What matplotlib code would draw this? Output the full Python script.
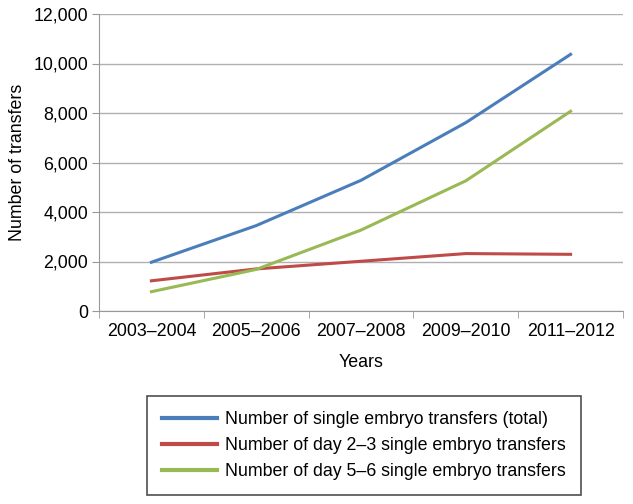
import matplotlib
matplotlib.use('Agg')
import matplotlib.pyplot as plt
import numpy as np

plt.rcParams['font.family'] = ['Liberation Sans', 'DejaVu Sans']

# Data
years = ['2003\u20132004', '2005\u20132006', '2007\u20132008', '2009\u20132010', '2011\u20132012']
total = [1970, 3450, 5280, 7610, 10370]
day23 = [1220, 1700, 2010, 2320, 2290]
day56 = [780, 1680, 3270, 5260, 8070]

fig = plt.figure(figsize=(6.33, 5.04), dpi=100)
ax = fig.add_axes([99 / 633, 1 - 311 / 504, (623 - 99) / 633, (311 - 14) / 504])

x = np.arange(len(years))
ax.plot(x, total, color='#4a7ebb', linewidth=2.2, label='Number of single embryo transfers (total)')
ax.plot(x, day23, color='#be4b48', linewidth=2.2, label='Number of day 2\u20133 single embryo transfers')
ax.plot(x, day56, color='#98b954', linewidth=2.2, label='Number of day 5\u20136 single embryo transfers')

ax.set_xlim(-0.5, len(years) - 0.5)
ax.set_ylim(0, 12000)
ax.set_yticks(range(0, 12001, 2000))
ax.set_yticklabels([f'{v:,}' for v in range(0, 12001, 2000)])
ax.set_xticks(x)
ax.set_xticklabels(years)
ax.set_xticks(np.arange(-0.5, len(years)), minor=True)
ax.tick_params(axis='x', which='major', length=0, pad=9, labelsize=12.8)
ax.tick_params(axis='x', which='minor', length=5, color='#999999')
ax.tick_params(axis='y', length=5, color='#999999', labelsize=12.8, pad=3)
ax.grid(axis='y', color='#b0b0b0', linewidth=1)
ax.set_axisbelow(True)
for side in ['top', 'right']:
    ax.spines[side].set_visible(False)
for side in ['left', 'bottom']:
    ax.spines[side].set_color('#999999')

ax.set_xlabel('Years', fontsize=12.8, labelpad=10)
ax.set_ylabel('Number of transfers', fontsize=12.8, labelpad=5)

leg = fig.legend(loc='lower left', bbox_to_anchor=(147 / 633, 9 / 504), fontsize=12.8,
                 frameon=True, fancybox=False, edgecolor='#222222', handlelength=3.1,
                 borderpad=0.85, labelspacing=0.5, handletextpad=0.45,
                 borderaxespad=0)
leg.get_frame().set_linewidth(1.2)
for line in leg.get_lines():
    line.set_linewidth(3)

fig.savefig('out.png', dpi=100)
